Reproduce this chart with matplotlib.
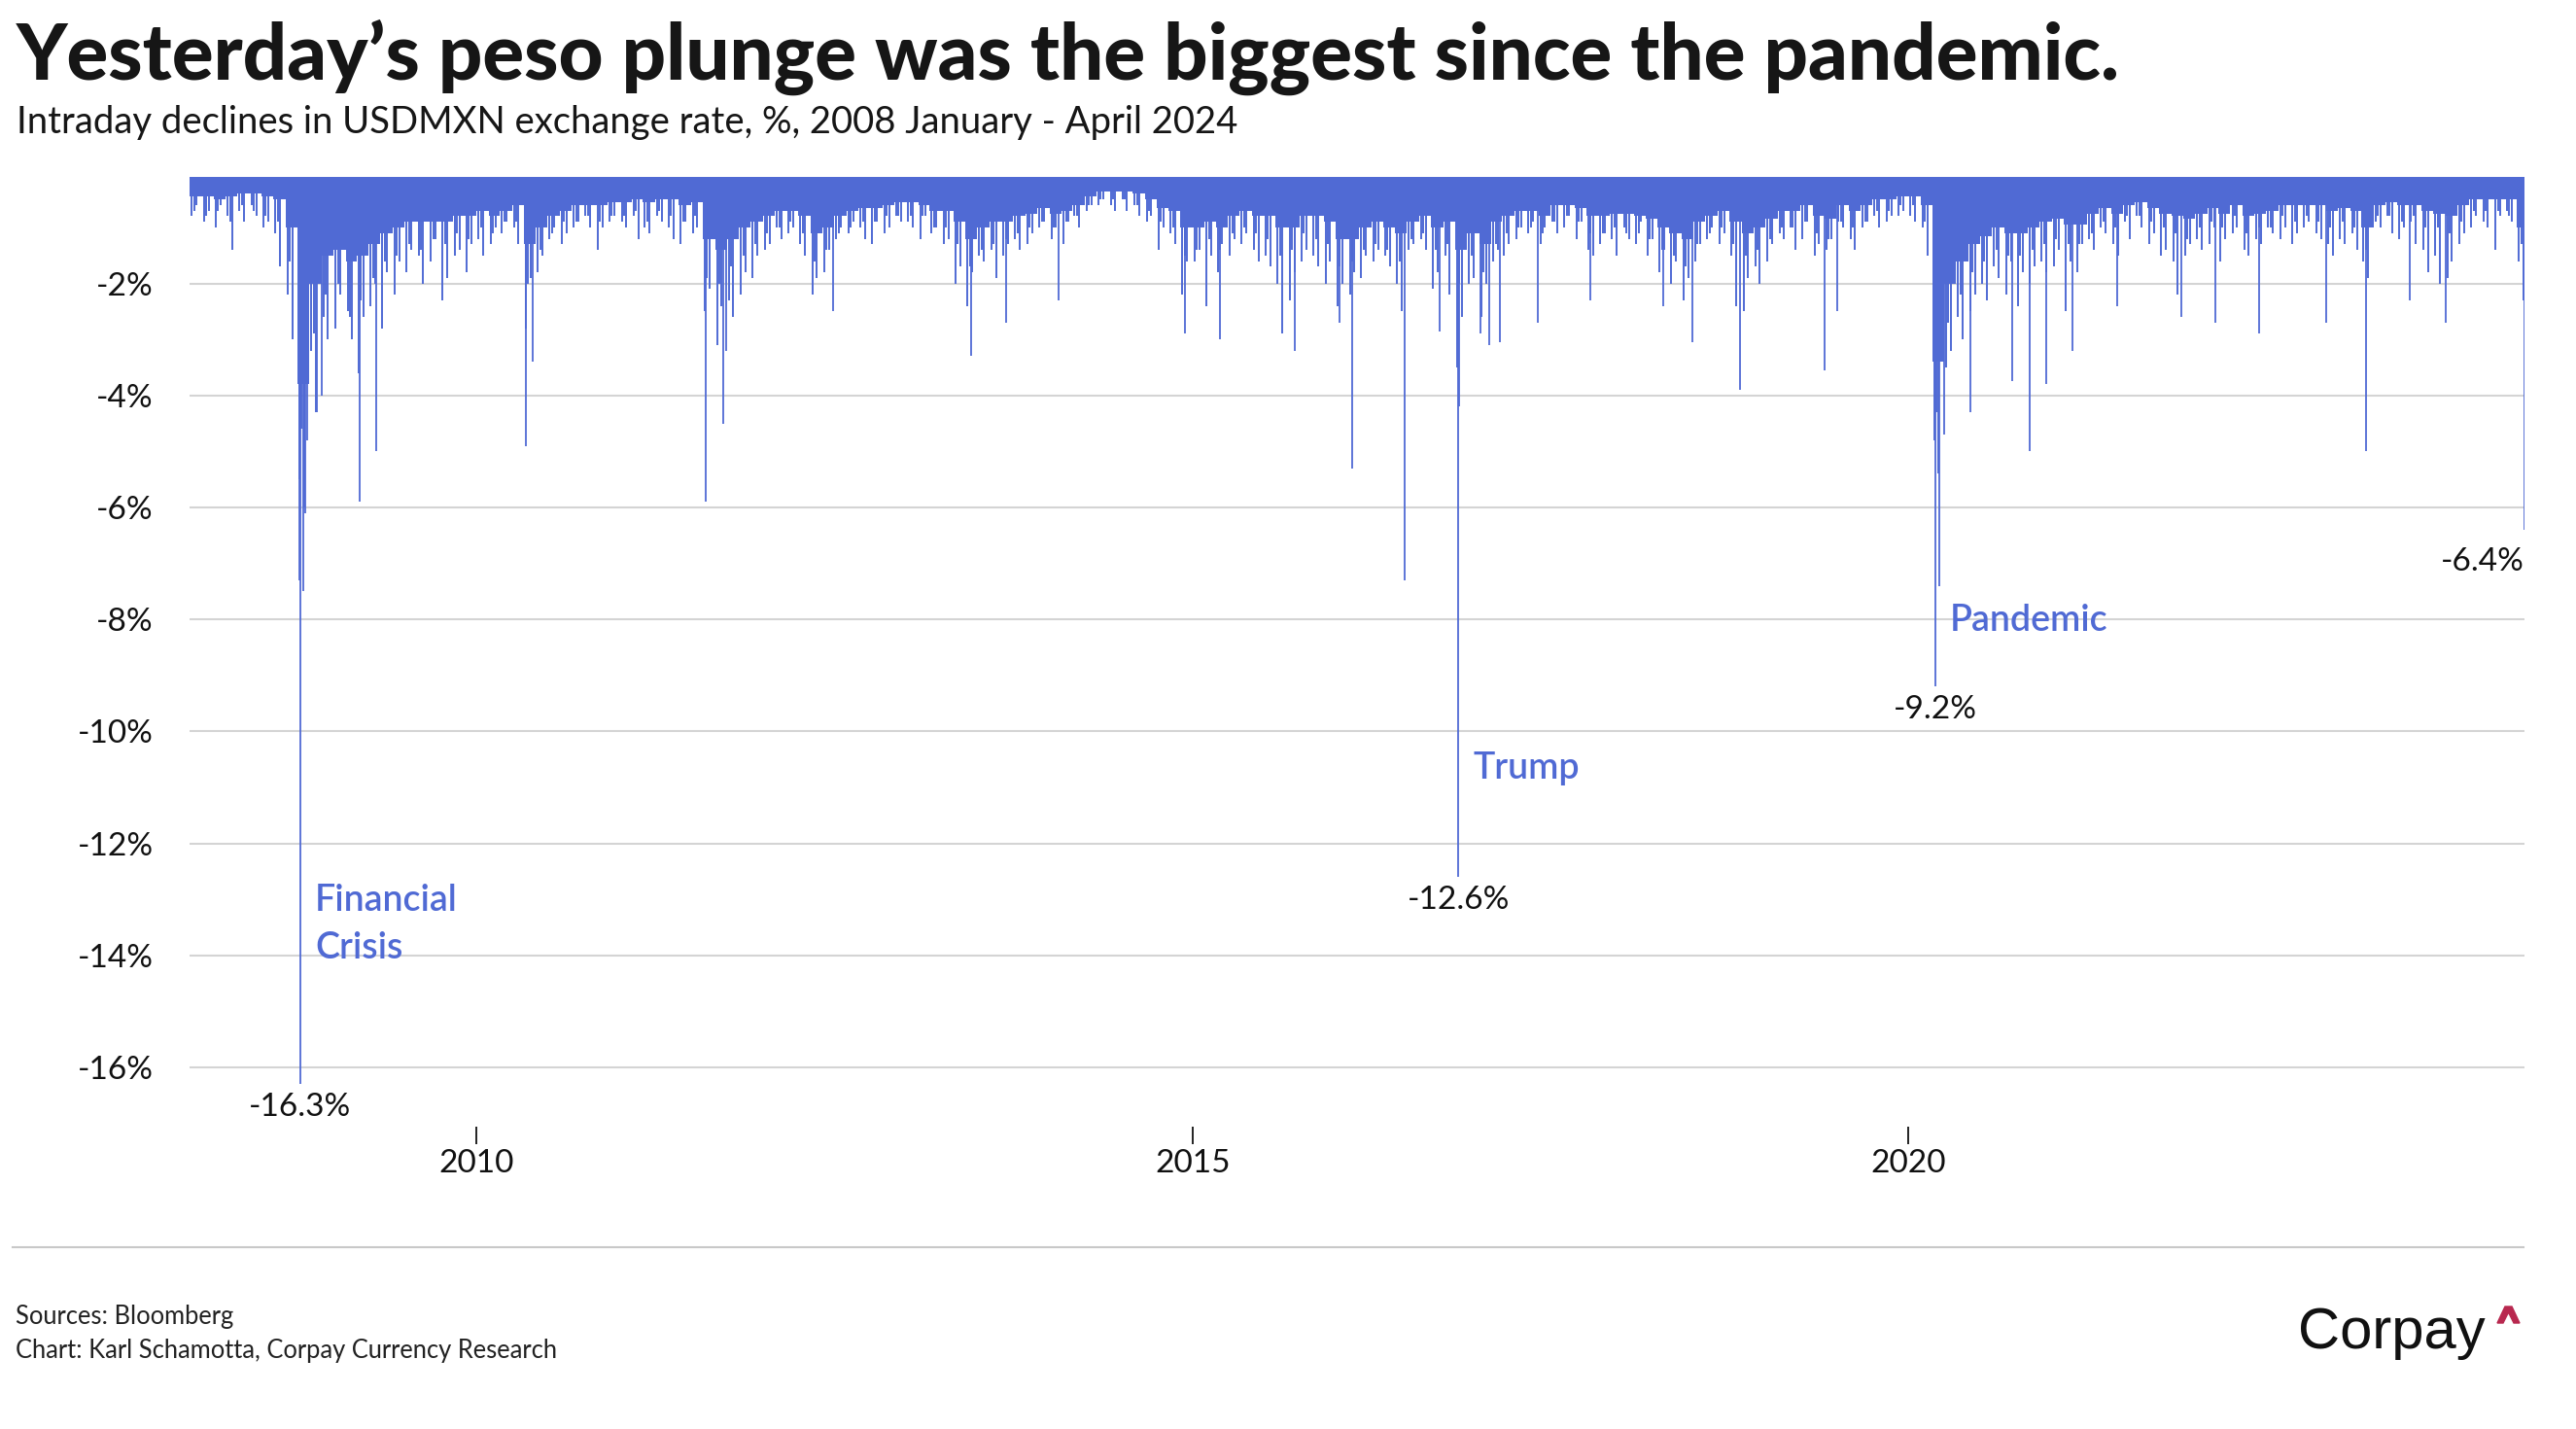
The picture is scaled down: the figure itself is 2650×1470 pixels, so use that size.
import numpy as np
import pandas as pd
import matplotlib
matplotlib.use("Agg")
import matplotlib.pyplot as plt
import matplotlib.dates as mdates
from matplotlib.patches import Polygon
from matplotlib.lines import Line2D

BLUE = "#506AD4"
GRID = "#D4D4D4"

# typical (dense) intraday decline per month, %, Jan 2008 .. Apr 2024
band_depth = [
    -0.45, -0.45, -0.5, -0.45, -0.4, -0.4, -0.45, -0.5, -1.0, -3.8, -2.0, -1.5,   # 2008
    -1.4, -1.6, -1.5, -1.3, -1.1, -1.0, -0.9, -0.9, -0.9, -0.9, -0.8, -0.8,        # 2009
    -0.7, -0.8, -0.7, -0.6, -1.3, -1.0, -0.8, -0.7, -0.6, -0.6, -0.6, -0.55,       # 2010
    -0.55, -0.5, -0.55, -0.5, -0.5, -0.6, -0.55, -1.2, -1.4, -1.2, -1.0, -0.9,     # 2011
    -0.8, -0.7, -0.7, -0.8, -1.1, -1.0, -0.8, -0.7, -0.65, -0.65, -0.6, -0.55,     # 2012
    -0.55, -0.6, -0.7, -0.7, -0.9, -1.2, -1.0, -0.9, -0.9, -0.8, -0.75, -0.65,     # 2013
    -0.75, -0.7, -0.6, -0.45, -0.35, -0.35, -0.35, -0.4, -0.5, -0.65, -0.7, -1.0,  # 2014
    -1.0, -0.9, -1.0, -0.8, -0.7, -0.8, -0.8, -1.0, -1.0, -0.8, -0.8, -0.9,        # 2015
    -1.2, -1.2, -1.0, -0.9, -1.0, -1.1, -0.9, -0.8, -1.0, -0.9, -1.4, -1.1,        # 2016
    -1.3, -0.9, -0.8, -0.7, -0.7, -0.8, -0.6, -0.6, -0.65, -0.8, -0.8, -0.75,      # 2017
    -0.75, -0.8, -0.85, -1.0, -1.1, -1.2, -0.9, -0.8, -0.7, -0.9, -1.1, -1.0,      # 2018
    -0.85, -0.7, -0.7, -0.6, -0.8, -0.85, -0.6, -0.7, -0.6, -0.5, -0.5, -0.45,     # 2019
    -0.45, -0.6, -3.4, -2.0, -1.6, -1.3, -1.15, -1.0, -1.1, -1.1, -1.0, -0.9,      # 2020
    -0.85, -0.95, -0.95, -0.75, -0.65, -0.75, -0.6, -0.55, -0.65, -0.75, -0.8, -0.85,  # 2021
    -0.75, -0.65, -0.75, -0.6, -0.8, -0.75, -0.7, -0.6, -0.6, -0.6, -0.6, -0.7,    # 2022
    -0.65, -0.7, -1.0, -0.6, -0.55, -0.6, -0.6, -0.7, -0.75, -0.8, -0.6, -0.5,     # 2023
    -0.5, -0.5, -0.5, -1.0,                                                       # 2024
]

# a mid-month daily decline, %
mid_depth = [
    -0.7, -0.8, -0.7, -0.9, -0.6, -0.7, -0.8, -0.9, -1.6, -4.6, -2.9, -2.2,       # 2008
    -2.0, -2.6, -2.3, -1.9, -1.6, -1.5, -1.3, -1.4, -1.2, -1.3, -1.1, -1.2,       # 2009
    -1.0, -1.1, -0.9, -0.9, -2.0, -1.4, -1.1, -0.9, -0.9, -0.8, -0.9, -0.8,       # 2010
    -0.8, -0.7, -0.9, -0.7, -0.8, -0.9, -0.8, -1.9, -2.0, -1.7, -1.5, -1.3,       # 2011
    -1.1, -1.0, -0.9, -1.1, -1.6, -1.4, -1.1, -1.0, -0.9, -0.9, -0.8, -0.8,       # 2012
    -0.8, -0.8, -1.0, -1.0, -1.3, -1.7, -1.4, -1.3, -1.2, -1.1, -1.0, -0.9,       # 2013
    -1.0, -0.9, -0.8, -0.6, -0.5, -0.5, -0.5, -0.6, -0.7, -0.9, -1.0, -1.5,       # 2014
    -1.4, -1.2, -1.4, -1.1, -1.0, -1.1, -1.2, -1.5, -1.4, -1.1, -1.2, -1.3,       # 2015
    -1.7, -1.6, -1.4, -1.3, -1.4, -1.6, -1.2, -1.1, -1.4, -1.3, -2.0, -1.5,       # 2016
    -1.8, -1.3, -1.1, -1.0, -1.0, -1.1, -0.9, -0.8, -0.9, -1.1, -1.1, -1.0,       # 2017
    -1.1, -1.1, -1.2, -1.4, -1.5, -1.7, -1.3, -1.1, -1.0, -1.3, -1.5, -1.4,       # 2018
    -1.2, -1.0, -1.0, -0.9, -1.1, -1.2, -0.9, -1.0, -0.9, -0.7, -0.7, -0.6,       # 2019
    -0.6, -0.9, -4.3, -2.7, -2.2, -1.8, -1.6, -1.4, -1.5, -1.5, -1.4, -1.3,       # 2020
    -1.2, -1.3, -1.3, -1.1, -0.9, -1.0, -0.8, -0.8, -0.9, -1.0, -1.1, -1.2,       # 2021
    -1.0, -0.9, -1.0, -0.8, -1.1, -1.0, -1.0, -0.8, -0.9, -0.8, -0.9, -1.0,       # 2022
    -0.9, -1.0, -1.4, -0.8, -0.8, -0.9, -0.8, -1.0, -1.0, -1.1, -0.9, -0.7,       # 2023
    -0.7, -0.7, -0.8, -1.3,                                                       # 2024
]

# two larger daily declines per month (early / late in the month), %
spike_depth = [
    -0.8, -0.6, -0.9, -0.7, -1.0, -0.6, -0.8, -1.4, -0.7, -0.9, -0.6, -0.8,
    -1.0, -0.9, -1.1, -1.7, -2.2, -3.0, -5.5, -6.0, -3.2, -4.3, -2.6, -3.0,      # 2008
    -2.8, -2.2, -2.5, -3.0, -3.6, -2.6, -2.4, -2.0, -2.8, -1.8, -2.2, -1.6,
    -1.8, -1.4, -1.5, -2.0, -1.6, -1.2, -2.3, -1.9, -1.5, -1.4, -1.8, -1.3,      # 2009
    -1.2, -1.5, -1.3, -1.0, -1.1, -0.9, -1.0, -1.3, -2.8, -1.9, -1.8, -1.5,
    -1.2, -1.0, -1.3, -1.1, -1.0, -0.9, -0.8, -1.0, -1.4, -1.0, -0.9, -0.8,      # 2010
    -0.9, -1.0, -0.8, -1.2, -1.0, -1.1, -0.8, -0.9, -1.0, -1.2, -1.3, -0.9,
    -1.1, -1.0, -2.5, -2.1, -3.1, -2.4, -2.3, -2.6, -2.2, -1.8, -1.9, -1.5,      # 2011
    -1.4, -1.3, -1.0, -1.2, -1.1, -1.0, -1.3, -1.5, -2.2, -1.9, -1.8, -1.4,
    -1.2, -1.0, -1.1, -0.9, -1.0, -1.2, -1.3, -0.9, -1.1, -1.0, -0.8, -0.9,      # 2012
    -0.9, -1.0, -1.2, -0.8, -1.1, -1.0, -1.3, -1.2, -2.0, -1.7, -2.4, -1.8,
    -1.5, -1.6, -1.4, -1.9, -1.5, -1.3, -1.2, -1.4, -1.3, -1.1, -1.0, -0.9,      # 2013
    -1.2, -1.0, -1.3, -0.9, -0.8, -1.0, -0.7, -0.6, -0.6, -0.5, -0.6, -0.7,
    -0.5, -0.7, -0.6, -0.8, -0.9, -0.8, -1.4, -1.0, -1.1, -1.3, -2.2, -1.6,      # 2014
    -1.6, -1.4, -2.4, -1.5, -1.8, -1.3, -1.5, -1.2, -1.3, -1.1, -1.4, -1.6,
    -1.5, -1.7, -2.0, -2.9, -2.3, -1.8, -1.6, -1.4, -1.5, -1.7, -2.0, -1.6,      # 2015
    -2.4, -2.0, -2.2, -1.8, -1.9, -1.5, -1.6, -1.4, -1.5, -1.7, -2.0, -2.5,
    -1.4, -1.3, -1.2, -1.4, -2.1, -1.8, -1.5, -2.2, -3.5, -2.6, -2.0, -1.9,      # 2016
    -2.6, -2.0, -1.6, -1.4, -1.5, -1.3, -1.2, -1.0, -1.1, -0.9, -1.3, -1.0,
    -0.9, -1.1, -1.0, -0.8, -1.2, -0.9, -1.4, -1.5, -1.3, -1.1, -1.2, -1.5,      # 2017
    -1.0, -1.2, -1.3, -0.9, -1.5, -1.2, -1.8, -1.4, -2.0, -1.6, -2.3, -1.9,
    -1.6, -1.3, -1.2, -1.0, -1.3, -1.1, -1.5, -2.4, -2.5, -1.9, -1.7, -2.0,      # 2018
    -1.6, -1.3, -1.1, -1.2, -1.0, -1.4, -1.2, -0.9, -1.5, -1.3, -1.4, -1.2,
    -0.9, -1.0, -1.2, -1.4, -1.0, -0.9, -0.8, -1.0, -0.9, -0.8, -0.8, -0.7,      # 2019
    -0.8, -0.9, -1.0, -1.5, -4.8, -5.4, -3.5, -3.2, -2.6, -3.0, -2.5, -2.2,
    -2.0, -2.3, -1.7, -1.9, -2.2, -1.6, -2.4, -1.8, -2.0, -1.7, -1.6, -1.8,      # 2020
    -1.7, -1.4, -2.5, -1.6, -1.8, -1.3, -1.2, -1.4, -1.0, -1.1, -1.3, -1.5,
    -0.9, -1.2, -0.8, -1.0, -1.3, -1.1, -1.5, -1.4, -1.6, -2.2, -1.5, -1.3,      # 2021
    -1.2, -1.4, -1.3, -1.0, -1.6, -1.2, -1.1, -1.0, -1.4, -1.5, -1.2, -1.3,
    -1.0, -1.1, -1.2, -1.0, -1.3, -1.1, -1.0, -0.9, -1.1, -1.2, -1.3, -1.5,      # 2022
    -1.2, -1.3, -1.1, -1.4, -1.6, -1.9, -0.9, -1.0, -0.8, -1.1, -1.2, -1.0,
    -0.9, -1.3, -1.4, -1.8, -1.5, -2.0, -1.9, -1.6, -1.3, -1.1, -1.0, -0.8,      # 2023
    -0.9, -1.0, -1.4, -0.8, -0.7, -0.9, -1.6, -2.3,                              # 2024
]

# individual large declines
event_dates = [
    "2008-10-06", "2008-10-08", "2008-10-15", "2008-10-22", "2008-10-27", "2008-11-20",
    "2008-12-01", "2009-03-09", "2009-04-21", "2010-05-06", "2010-05-25", "2011-08-08",
    "2011-09-22", "2011-09-30", "2012-06-28", "2013-06-14", "2013-09-13", "2014-01-24",
    "2014-12-12", "2015-03-13", "2015-09-18", "2016-01-12", "2016-02-11", "2016-06-24",
    "2016-09-21", "2016-11-09", "2016-11-10", "2017-01-05", "2017-01-26", "2017-02-24",
    "2017-05-31", "2017-10-12", "2018-04-16", "2018-06-28", "2018-10-29", "2019-05-31",
    "2019-07-03", "2020-03-09", "2020-03-19", "2020-04-01", "2020-06-08", "2020-09-21",
    "2020-11-04", "2020-12-17", "2021-02-22", "2021-06-16", "2021-11-26", "2022-02-22",
    "2022-06-13", "2022-12-02", "2023-03-13", "2023-07-03", "2023-10-02", "2024-04-19",
]
event_values = [
    -7.3, -16.3, -7.5, -6.1, -4.8, -4.3,
    -4.0, -5.9, -5.0, -4.9, -3.4, -5.9,
    -4.5, -3.2, -2.5, -3.3, -2.7, -2.3,
    -2.9, -3.0, -3.2, -2.7, -5.3, -7.3,
    -2.85, -12.6, -4.2, -2.9, -3.1, -3.05,
    -2.7, -2.3, -2.4, -3.05, -3.9, -3.55,
    -2.5, -9.2, -7.4, -4.7, -4.3, -3.75,
    -5.0, -3.8, -3.2, -2.4, -2.6, -2.7,
    -2.9, -2.7, -5.0, -2.3, -2.7, -6.4,
]

# labelled episodes
label_dates = ["2008-10-08", "2016-11-09", "2020-03-09", "2024-04-19"]
label_values = [-16.3, -12.6, -9.2, -6.4]
label_align = ["center", "center", "center", "right"]
episode_names = ["Financial\nCrisis", "Trump", "Pandemic"]
episode_y = [-14.05, -10.85, -8.2]

yticks = [-2, -4, -6, -8, -10, -12, -14, -16]
xtick_years = ["2010", "2015", "2020"]
last_day = "2024-04-19"

plt.rcParams["font.family"] = ["Lato", "DejaVu Sans"]

fig = plt.figure(figsize=(26.5, 14.7), dpi=100)
ax = fig.add_axes([0.0736, 0.2118, 0.9064, 0.6643])

months = pd.date_range("2008-01-01", periods=len(band_depth), freq="MS")
edges = list(months[1:]) + [pd.Timestamp(last_day) + pd.Timedelta(days=1)]
left = mdates.date2num(months)
right = mdates.date2num(pd.DatetimeIndex(edges))
ax.bar(left, band_depth, width=right - left, align="edge", color=BLUE,
       linewidth=0, zorder=2)

mid_x = mdates.date2num(months + pd.Timedelta(days=11))
ax.vlines(mid_x, 0, mid_depth, color=BLUE, lw=1.4, zorder=2)

spike_x = []
for m in months:
    spike_x += [m + pd.Timedelta(days=5), m + pd.Timedelta(days=17)]
ax.vlines(mdates.date2num(pd.DatetimeIndex(spike_x)), 0, spike_depth,
          color=BLUE, lw=1.4, zorder=2)

ev_x = mdates.date2num(pd.to_datetime(event_dates))
ax.vlines(ev_x, 0, event_values, color=BLUE, lw=1.3, zorder=3)

ax.set_xlim(mdates.date2num(pd.Timestamp("2007-12-31")),
            mdates.date2num(pd.Timestamp("2024-04-20")))
ax.set_ylim(-17.05, -0.1)

ax.set_yticks(yticks)
ax.set_yticklabels([f"{v}%" for v in yticks])
ax.set_xticks(mdates.date2num(pd.to_datetime([y + "-01-01" for y in xtick_years])))
ax.set_xticklabels(xtick_years)
ax.tick_params(axis="y", length=0, pad=27, labelsize=24, labelcolor="#111111")
ax.tick_params(axis="x", direction="out", length=13, width=1.3, color="#111111",
               pad=4, labelsize=24, labelcolor="#111111")
ax.yaxis.grid(True, color=GRID, lw=1.5)
ax.set_axisbelow(True)
for s in ax.spines.values():
    s.set_visible(False)

# value labels under the labelled spikes
lab_x = mdates.date2num(pd.to_datetime(label_dates))
for x, v, ha in zip(lab_x, label_values, label_align):
    dy = -13 if ha == "right" else -6
    ax.annotate(f"{v}%", (x, v), xytext=(0, dy), textcoords="offset points",
                ha=ha, va="top", fontsize=24, color="#111111",
                annotation_clip=False)

for x, name, yv in zip(lab_x[:3], episode_names, episode_y):
    ax.annotate(name, (x, yv), xytext=(11, 0), textcoords="offset points",
                ha="left", va="baseline", fontsize=27, color=BLUE,
                fontweight="semibold", linespacing=1.5)

# header and footer
fig.text(17 / 2650, 1 - 82 / 1470, "Yesterday\u2019s peso plunge was the biggest since the pandemic.",
         fontsize=57.5, fontweight="black", color="#161616", va="baseline")
fig.text(17 / 2650, 1 - 137 / 1470,
         "Intraday declines in USDMXN exchange rate, %, 2008 January - April 2024",
         fontsize=27.5, color="#161616", va="baseline")

fig.add_artist(Line2D([13 / 2650, 2596 / 2650], [1 - 1283 / 1470] * 2,
                      color="#C8C8C8", lw=1.5))
fig.text(16 / 2650, 1 - 1362 / 1470, "Sources: Bloomberg", fontsize=18.4,
         color="#222222", va="baseline")
fig.text(16 / 2650, 1 - 1397 / 1470, "Chart: Karl Schamotta, Corpay Currency Research",
         fontsize=18.4, color="#222222", va="baseline")

fig.text(2364 / 2650, 1 - 1387 / 1470, "Corpay", fontsize=43,
         family="Liberation Sans", color="#111111", va="baseline")
caret = [(2569, 1361), (2577, 1344), (2584, 1344), (2592, 1361),
         (2586, 1361), (2580.5, 1350), (2575, 1361)]
fig.add_artist(Polygon([(x / 2650, 1 - y / 1470) for x, y in caret],
                       closed=True, color="#B8284F", transform=fig.transFigure))

fig.savefig("out.png", dpi=100, facecolor="white")
